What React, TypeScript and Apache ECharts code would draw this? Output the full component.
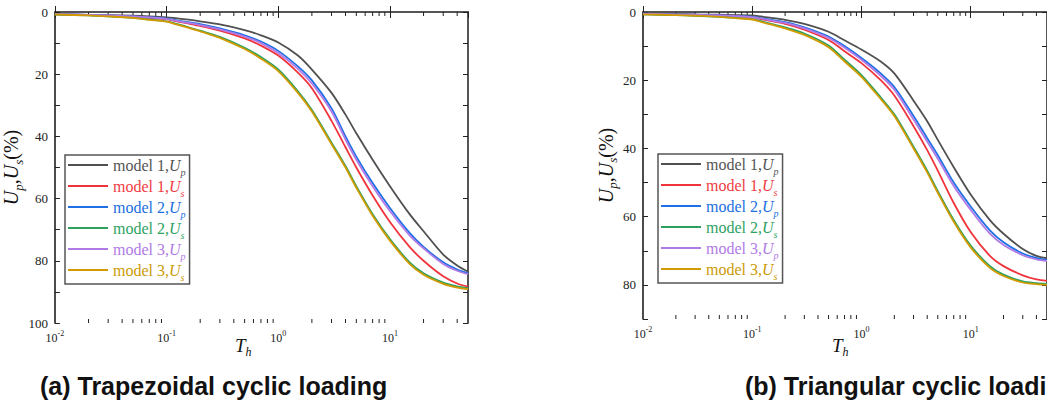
import React, { useEffect, useRef } from 'react';
import * as echarts from 'echarts';

// time factor samples (log axis)
const T = [0.01, 0.02, 0.03, 0.05, 0.07, 0.1, 0.12, 0.15, 0.2, 0.3, 0.5, 0.7, 1, 1.5, 2, 3, 4, 5, 7, 10, 15, 20, 30, 40, 50];

// (a) Trapezoidal cyclic loading
const aM1Up = [0.7, 0.9, 1.0, 1.2, 1.4, 1.7, 2.0, 2.4, 3.0, 4.0, 5.8, 7.5, 9.8, 14, 18.5, 26, 33, 39, 47.5, 56, 65, 70.5, 78, 81.5, 83.5];
const aM1Us = [0.7, 1.0, 1.2, 1.5, 1.9, 2.3, 2.9, 3.6, 4.5, 6.0, 8.5, 10.8, 14, 19.5, 24.5, 35, 43.5, 50, 59, 67.5, 75.5, 80, 85, 87.3, 88.3];
const aM2Up = [0.7, 0.9, 1.1, 1.4, 1.7, 2.1, 2.6, 3.2, 3.9, 5.3, 7.5, 9.5, 12.5, 17.5, 22, 31, 40, 46.5, 55, 63, 71, 75.5, 80.5, 82.8, 84];
const aM2Us = [0.8, 1.1, 1.4, 1.9, 2.4, 3.0, 3.7, 4.7, 6.0, 8.0, 11.5, 14.5, 18.5, 25.5, 31.5, 42, 49.5, 56, 65, 73, 80.5, 84, 87, 88.2, 88.8];
const aM3Up = [0.7, 0.9, 1.1, 1.4, 1.7, 2.2, 2.8, 3.4, 4.2, 5.6, 7.9, 10, 13.2, 18.3, 23, 32, 41, 47.5, 56, 64, 71.8, 76, 81, 83.2, 84.3];
const aM3Us = [0.8, 1.1, 1.4, 1.9, 2.5, 3.1, 3.9, 4.9, 6.2, 8.3, 11.9, 15, 19, 26, 32, 42.5, 50, 56.5, 65.5, 73.5, 81, 84.5, 87.4, 88.6, 89.1];

// (b) Triangular cyclic loading
const bM1Up = [0.5, 0.6, 0.7, 0.8, 0.9, 1.0, 1.3, 1.7, 2.3, 3.5, 5.8, 8.3, 11, 14.5, 18, 26, 32, 37.5, 45.5, 53.5, 61, 65, 69.5, 71.5, 72.2];
const bM1Us = [0.6, 0.8, 0.9, 1.1, 1.3, 1.6, 2.1, 2.7, 3.5, 5.2, 8.2, 11.5, 15, 20, 24.5, 33.5, 40.5, 46.5, 56, 64.5, 71.5, 74.5, 77.2, 78.4, 78.8];
const bM2Up = [0.5, 0.7, 0.8, 1.0, 1.2, 1.4, 1.8, 2.3, 3.0, 4.5, 7.2, 10, 13.5, 18, 22, 30.5, 37, 42, 50, 57, 64, 67.5, 70.8, 72.1, 72.7];
const bM2Us = [0.7, 0.9, 1.1, 1.4, 1.7, 2.1, 2.7, 3.5, 4.5, 6.3, 9.8, 14, 18.5, 25, 30, 39.5, 46.5, 52.5, 61, 68.5, 74.5, 77, 79, 79.5, 79.7];
const bM3Up = [0.5, 0.7, 0.8, 1.0, 1.2, 1.5, 1.9, 2.5, 3.2, 4.8, 7.6, 10.5, 14, 18.7, 22.8, 31.5, 38, 43, 51, 58, 65, 68.3, 71.3, 72.5, 73];
const bM3Us = [0.7, 0.9, 1.1, 1.4, 1.8, 2.2, 2.9, 3.7, 4.8, 6.7, 10.3, 14.5, 19, 25.5, 30.5, 40, 47, 53, 61.5, 69, 75, 77.4, 79.3, 79.8, 80];

const seriesNames = ['model 1,Up', 'model 1,Us', 'model 2,Up', 'model 2,Us', 'model 3,Up', 'model 3,Us'];
const lineColors = ['#505050', '#f0343c', '#1f6fe6', '#2ea05e', '#b07ae6', '#d09a00'];
const textColors = ['#555555', '#f03c44', '#2070e0', '#2ea262', '#b07ae6', '#cc9a06'];

const minorTicks = [0.02, 0.03, 0.04, 0.05, 0.06, 0.07, 0.08, 0.09, 0.2, 0.3, 0.4, 0.5, 0.6, 0.7, 0.8, 0.9, 2, 3, 4, 5, 6, 7, 8, 9, 20, 30, 40];

const panelA = [aM1Up, aM1Us, aM2Up, aM2Us, aM3Up, aM3Us];
const panelB = [bM1Up, bM1Us, bM2Up, bM2Us, bM3Up, bM3Us];

const SERIF = 'Liberation Serif, DejaVu Serif, serif';
const SANS = 'Liberation Sans, Arial, sans-serif';

export default function App() {
  const ref = useRef<HTMLDivElement>(null);
  useEffect(() => {
    if (!ref.current) return;
    const chart = echarts.init(ref.current, undefined, { renderer: 'svg' });

    const grids = [
      { left: 53, top: 12, width: 415, height: 311, ymax: 100 },
      { left: 643, top: 12, width: 415, height: 307, ymax: 90 },
    ];

    const xLabelRich = {
      b: { fontSize: 12, fontFamily: SERIF, color: '#222', lineHeight: 15, verticalAlign: 'bottom' },
      e: { fontSize: 8, fontFamily: SERIF, color: '#222', lineHeight: 15, verticalAlign: 'top' },
    };

    const xAxes: any[] = [];
    const yAxes: any[] = [];
    grids.forEach((g, i) => {
      xAxes.push({
        type: 'log', logBase: 10, gridIndex: i, min: 0.01, max: 50, position: 'bottom',
        axisLine: { lineStyle: { color: '#111', width: 1.5 } },
        axisTick: { inside: true, length: 6, lineStyle: { color: '#222', width: 1 } },
        splitLine: { show: false },
        axisLabel: {
          showMaxLabel: false, margin: 6,
          formatter: (v: number) => `{b|10}{e|${Math.round(Math.log10(v))}}`,
          rich: xLabelRich,
        },
      });
      xAxes.push({
        type: 'log', logBase: 10, gridIndex: i, min: 0.01, max: 50, position: 'top',
        axisLine: { lineStyle: { color: '#555', width: 2 } },
        axisTick: { inside: true, length: 6, lineStyle: { color: '#222', width: 1 } },
        axisLabel: { show: false }, splitLine: { show: false },
      });
      yAxes.push({
        type: 'value', gridIndex: i, min: 0, max: g.ymax, interval: 10, inverse: true, position: 'left',
        axisLine: { lineStyle: { color: '#111', width: 1.5 } },
        axisTick: { inside: true, length: 5, lineStyle: { color: '#222', width: 1 } },
        splitLine: { show: false },
        axisLabel: {
          margin: 7, color: '#222', fontSize: 13, fontFamily: SERIF,
          formatter: (v: number) => (v % 20 === 0 ? String(v) : ''),
        },
        name: '{i|U}{s|p}{n|,}{i|U}{s|s}{n|(%)}',
        nameLocation: 'middle', nameRotate: 90, nameGap: 24,
        nameTextStyle: {
          rich: {
            i: { fontSize: 20, fontStyle: 'italic', fontFamily: SERIF, color: '#111', lineHeight: 27, verticalAlign: 'middle' },
            s: { fontSize: 13, fontStyle: 'italic', fontFamily: SERIF, color: '#111', lineHeight: 27, verticalAlign: 'bottom' },
            n: { fontSize: 20, fontFamily: SERIF, color: '#111', lineHeight: 27, verticalAlign: 'middle' },
          },
        },
      });
      yAxes.push({
        type: 'value', gridIndex: i, min: 0, max: g.ymax, interval: 10, inverse: true, position: 'right',
        axisLine: { lineStyle: { color: '#555', width: 2 } },
        axisTick: { inside: true, length: 5, lineStyle: { color: '#222', width: 1 } },
        axisLabel: { show: false }, splitLine: { show: false },
      });
    });

    const series: any[] = [];
    [panelA, panelB].forEach((panel, pi) => {
      panel.forEach((vals, si) => {
        series.push({
          type: 'line', name: seriesNames[si], xAxisIndex: pi * 2, yAxisIndex: pi * 2,
          data: T.map((t, k) => [t, vals[k]]),
          showSymbol: false, symbol: 'none', smooth: 0.3,
          lineStyle: { color: lineColors[si], width: 1.8 },
          itemStyle: { color: lineColors[si] },
          z: 3 + si,
        });
      });
      const ymax = grids[pi].ymax;
      series.push({
        type: 'custom', xAxisIndex: pi * 2, yAxisIndex: pi * 2, silent: true, clip: false,
        data: minorTicks.map((v) => [v, 0]),
        renderItem: (_p: any, api: any) => {
          const top = api.coord([api.value(0), 0]);
          const bot = api.coord([api.value(0), ymax]);
          return {
            type: 'group',
            children: [
              { type: 'line', shape: { x1: top[0], y1: top[1], x2: top[0], y2: top[1] + 4 }, style: { stroke: '#222', lineWidth: 1 } },
              { type: 'line', shape: { x1: bot[0], y1: bot[1], x2: bot[0], y2: bot[1] - 4 }, style: { stroke: '#222', lineWidth: 1 } },
            ],
          };
        },
      });
    });

    const legendData = seriesNames.map((name, i) => ({
      name,
      icon: 'rect',
      itemStyle: { color: lineColors[i] },
      textStyle: {
        color: textColors[i],
        rich: {
          n: { fontSize: 16, fontFamily: SERIF, color: textColors[i], lineHeight: 24, verticalAlign: 'middle' },
          i: { fontSize: 16, fontStyle: 'italic', fontFamily: SERIF, color: textColors[i], lineHeight: 24, verticalAlign: 'middle' },
          s: { fontSize: 10, fontStyle: 'italic', fontFamily: SERIF, color: textColors[i], lineHeight: 24, verticalAlign: 'bottom' },
        },
      },
    }));
    const legendFormatter = (name: string) => {
      const [m, u] = name.split(',');
      return `{n|${m},}{i|U}{s|${u.slice(1)}}`;
    };
    const legendBase = {
      orient: 'vertical', itemWidth: 40, itemHeight: 2, itemGap: 1,
      padding: [2, 4, 2, 3], borderColor: '#555', borderWidth: 1.5,
      data: legendData, formatter: legendFormatter, selectedMode: false,
    };

    const thRich = {
      i: { fontSize: 19, fontStyle: 'italic', fontFamily: SERIF, fill: '#111', lineHeight: 26, verticalAlign: 'middle' },
      s: { fontSize: 12, fontStyle: 'italic', fontFamily: SERIF, fill: '#111', lineHeight: 26, verticalAlign: 'bottom' },
    };

    chart.setOption({
      animation: false,
      backgroundColor: '#fff',
      grid: grids.map((g) => ({ left: g.left, top: g.top, width: g.width, height: g.height })),
      xAxis: xAxes,
      yAxis: yAxes,
      legend: [
        { ...legendBase, left: 65, top: 155 },
        { ...legendBase, left: 658, top: 154 },
      ],
      series,
      graphic: [
        { type: 'text', x: 235, y: 345, style: { text: '{i|T}{s|h}', verticalAlign: 'middle', rich: thRich } },
        { type: 'text', x: 832, y: 345, style: { text: '{i|T}{s|h}', verticalAlign: 'middle', rich: thRich } },
        {
          type: 'text', x: 40, y: 386,
          style: { text: '(a) Trapezoidal cyclic loading', fontSize: 25, fontWeight: 'bold', fontFamily: SANS, fill: '#111', verticalAlign: 'middle' },
        },
        {
          type: 'text', x: 745, y: 386,
          style: { text: '(b) Triangular cyclic loading', fontSize: 25, fontWeight: 'bold', fontFamily: SANS, fill: '#111', verticalAlign: 'middle' },
        },
      ],
    });
    return () => chart.dispose();
  }, []);
  return <div ref={ref} style={{ position: 'fixed', left: 0, top: 0, width: 1047, height: 402 }} />;
}
